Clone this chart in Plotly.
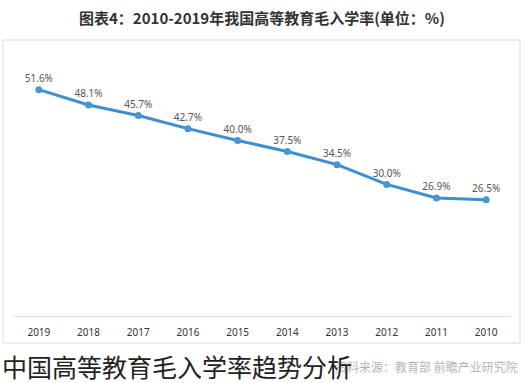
import plotly.graph_objects as go

years = ["2019", "2018", "2017", "2016", "2015", "2014", "2013", "2012", "2011", "2010"]
rates = [51.6, 48.1, 45.7, 42.7, 40.0, 37.5, 34.5, 30.0, 26.9, 26.5]
labels = [f"{v:.1f}%" for v in rates]

title_text = "图表4：2010-2019年我国高等教育毛入学率(单位：%)"
caption_text = "中国高等教育毛入学率趋势分析"
source_text = "资料来源：教育部 前瞻产业研究院"

W, H = 525, 383
L, R, T, B = 14, 14, 44, 67
PW, PH = W - L - R, H - T - B


def px(x):
    return (x - L) / PW


def py(y):
    return (H - B - y) / PH


fig = go.Figure()
fig.add_trace(go.Scatter(
    x=years, y=rates, mode="lines+markers+text",
    text=labels, textposition="top center",
    textfont=dict(family="Noto Sans, sans-serif", size=10, color="#555555"),
    line=dict(color="#3d8fd1", width=3),
    marker=dict(color="#4a95d4", size=7),
    cliponaxis=False, hoverinfo="skip",
))

fig.update_layout(
    width=W, height=H,
    margin=dict(l=L, r=R, t=T, b=B),
    paper_bgcolor="white", plot_bgcolor="white",
    showlegend=False,
    font=dict(family="Noto Sans CJK SC, sans-serif"),
    xaxis=dict(type="category", range=[-0.5, 9.5], showgrid=False, zeroline=False,
               showline=True, linecolor="#dddddd", linewidth=1,
               ticks="outside", ticklen=7, tickcolor="rgba(0,0,0,0)",
               tickfont=dict(family="Noto Sans, sans-serif", size=10, color="#333333"),
               fixedrange=True),
    yaxis=dict(range=[0, 62], visible=False, fixedrange=True),
    shapes=[
        dict(type="rect", xref="paper", yref="paper", layer="below",
             x0=px(3), x1=px(520), y0=py(343), y1=py(40),
             line=dict(color="#dcdcdc", width=1), fillcolor="rgba(0,0,0,0)"),
    ],
    annotations=[
        dict(text="<b>" + title_text + "</b>", xref="paper", yref="paper", x=px(262), y=py(18),
             xanchor="center", yanchor="middle", showarrow=False,
             font=dict(size=15, color="#333333", family="Noto Sans CJK SC, sans-serif")),
        dict(text=source_text, xref="paper", yref="paper", x=px(520), y=py(366),
             xanchor="right", yanchor="middle", showarrow=False,
             font=dict(size=12, color="#b5b5b5", family="Noto Sans CJK SC, sans-serif")),
        dict(text=caption_text, xref="paper", yref="paper", x=px(0), y=py(366),
             xanchor="left", yanchor="middle", showarrow=False,
             font=dict(size=25, color="#222222", family="Noto Sans CJK SC, sans-serif")),
    ],
)

fig.write_html("out.html", config={"displayModeBar": False},
               post_script="document.body.style.margin='0';")
